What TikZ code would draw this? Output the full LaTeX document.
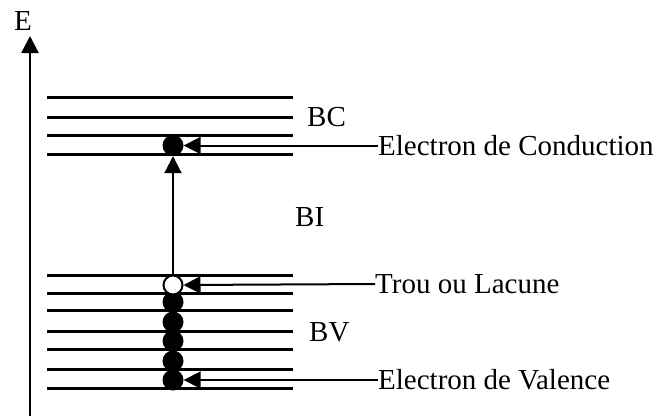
\documentclass[tikz,border=0pt]{standalone}
\usepackage{fontspec}
\setmainfont{Liberation Serif}
\usetikzlibrary{arrows.meta}
\begin{document}
\begin{tikzpicture}[x=1pt,y=-1pt,
  level/.style={line width=3pt},
  pointer/.style={line width=2pt,-{Triangle[length=17pt,width=17pt]}},
  electron/.style={circle,fill=black,minimum size=21pt,inner sep=0pt},
  hole/.style={circle,fill=white,draw=black,line width=2pt,minimum size=19pt,inner sep=0pt},
  label/.style={font=\fontsize{29}{31}\selectfont,inner sep=0pt}]
  \useasboundingbox (0,0) rectangle (664,416);

  % energy axis
  \coordinate (axbot) at (30,416);
  \coordinate (axtop) at (30,36);
  \draw[line width=2.5pt,-{Triangle[length=17pt,width=17pt]}] (axbot) -- (axtop);
  \node[label,anchor=base] (E) at (23,30) {E};

  % conduction band levels
  \foreach \y in {97.7,117.3,135.7,154.7}
    \draw[level] (47,\y) -- (293,\y);
  % valence band levels
  \foreach \y in {275,293.3,310.3,331,349.7,369.7,388.3}
    \draw[level] (47,\y) -- (293,\y);

  % band labels
  \node[label,anchor=west] (BC) at (307,117) {BC};
  \node[label,anchor=west] (BI) at (295,217) {BI};
  \node[label,anchor=west] (BV) at (309,332) {BV};

  % carriers
  \node[electron] (ec) at (173,145.5) {};
  \foreach \i/\y in {1/302,2/322,3/341,4/361,5/380}
    \node[electron] (ev\i) at (173,\y) {};
  \node[hole] (h) at (173,285) {};

  % excitation across the gap
  \draw[pointer] (h.north) -- (ec.south);

  % annotations
  \node[label,anchor=west] (tc) at (378,145.5) {Electron de Conduction};
  \node[label,anchor=west] (tt) at (375,284) {Trou ou Lacune};
  \node[label,anchor=west] (tv) at (378,380) {Electron de Valence};
  \draw[pointer] (tc.west) -- (ec.east);
  \draw[pointer] (tt.west) -- (h.east);
  \draw[pointer] (tv.west) -- (ev5.east);
\end{tikzpicture}
\end{document}
